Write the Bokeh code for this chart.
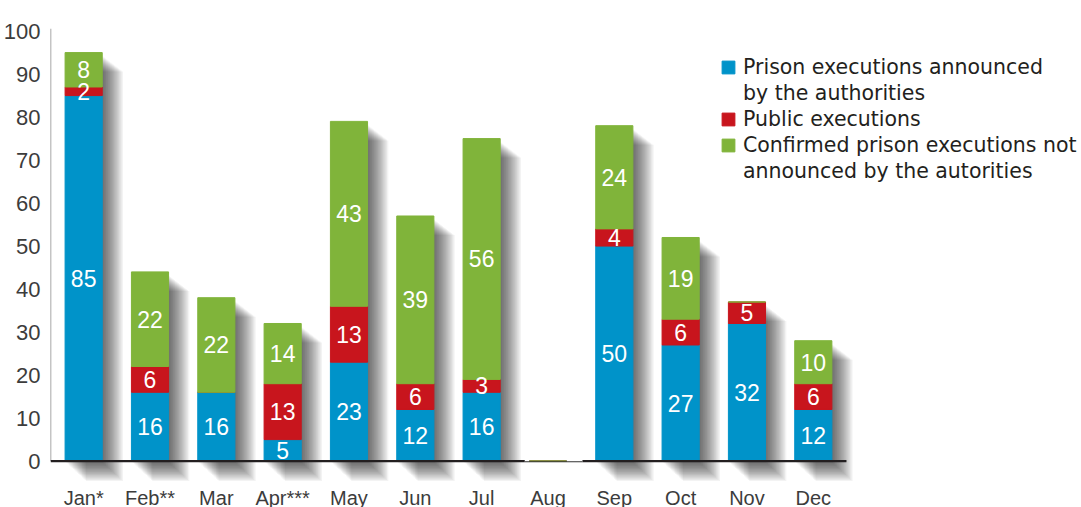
from bokeh.plotting import figure
from bokeh.models import ColumnDataSource, Range1d, FixedTicker, Legend, LegendItem
from bokeh.transform import dodge
from bokeh.embed import file_html
from bokeh.resources import INLINE

# ---- data ----
months = ["Jan*", "Feb**", "Mar", "Apr***", "May", "Jun", "Jul", "Aug", "Sep", "Oct", "Nov", "Dec"]
prison = [85, 16, 16, 5, 23, 12, 16, 0, 50, 27, 32, 12]
public = [2, 6, 0, 13, 13, 6, 3, 0, 4, 6, 5, 6]
unannounced = [8, 22, 22, 14, 43, 39, 56, 0, 24, 19, 0, 10]
legend_labels = ["Prison executions announced", "by the authorities", "Public executions",
                 "Confirmed prison executions not", "announced by the autorities"]
y_ticks = list(range(0, 101, 10))
colors = ["#0093c9", "#c8151d", "#80b43a"]

FONT = "Liberation Sans"
LEG_FONT = "DejaVu Sans"
PX_PER_UNIT = 4.3
PX_PER_CAT = 66.33
BAR_W = 0.56
FRAME_W = 1029

# month slots: one unit per month, bars centred in each slot
xpos = [i + 0.5 for i in range(len(months))]
src = ColumnDataSource(dict(x=xpos, prison=prison, public=public, unannounced=unannounced))

p = figure(x_range=Range1d(0, FRAME_W / PX_PER_CAT), y_range=Range1d(-8, 100.6),
           frame_width=FRAME_W, frame_height=467,
           min_border_top=28, min_border_left=44, min_border_right=0, min_border_bottom=0,
           output_backend="svg", toolbar_location=None, outline_line_color=None,
           background_fill_color="white", border_fill_color="white")

# ---- soft drop shadows ----
totals = [a + b + c for a, b, c in zip(prison, public, unannounced)]
sh_x = [x for x, t in zip(xpos, totals) if t > 0]
sh_totals = [t for t in totals if t > 0]
N = 16
for i in range(N):
    off = 1.3 * (i + 1) / PX_PER_CAT
    tops = [t - (4 + 1.0 * i) / PX_PER_UNIT for t in sh_totals]
    bottom = -(2 + 1.2 * i) / PX_PER_UNIT
    ssrc = ColumnDataSource(dict(x=sh_x, top=tops))
    p.vbar(x=dodge("x", off), top="top", bottom=bottom, width=BAR_W,
           source=ssrc, fill_color="black", fill_alpha=0.048, line_color=None)

# ---- stacked bars ----
bars = p.vbar_stack(["prison", "public", "unannounced"], x="x", width=BAR_W,
                    color=colors, source=src)

# ---- value labels ----
lx, ly, lt = [], [], []
for xv, a, b, c in zip(xpos, prison, public, unannounced):
    base = 0
    for v in (a, b, c):
        if v > 0:
            lx.append(xv)
            ly.append(base + v / 2)
            lt.append(str(v))
        base += v
p.text(x="x", y="y", text="t", source=ColumnDataSource(dict(x=lx, y=ly, t=lt)),
       text_color="white", text_font_size="23px", text_font={"value": FONT},
       text_align="center", text_baseline="middle")

# ---- axis lines ----
n = len(months)
p.segment(x0=[0], y0=[0], x1=[0], y1=[100.6], line_color="#8a8a8a", line_width=1.5)
p.segment(x0=[0, 8.02], y0=[0, 0], x1=[7.15, n], y1=[0, 0], line_color="#231f20", line_width=2.2)
p.segment(x0=[7.15], y0=[-0.15], x1=[8.02], y1=[-0.15], line_color="#333333", line_width=1.2)

p.xgrid.grid_line_color = None
p.ygrid.grid_line_color = None

for ax in (p.xaxis[0], p.yaxis[0]):
    ax.axis_line_color = None
    ax.major_tick_line_color = None
    ax.minor_tick_line_color = None
    ax.major_label_text_font = FONT
    ax.major_label_text_color = "#3c3c3c"
p.yaxis[0].ticker = FixedTicker(ticks=y_ticks)
p.yaxis[0].major_label_text_font_size = "22px"
p.yaxis[0].major_label_standoff = 4
p.xaxis[0].ticker = FixedTicker(ticks=xpos)
p.xaxis[0].major_label_overrides = {x: m for x, m in zip(xpos, months)}
p.xaxis[0].major_label_text_font_size = "20px"
p.xaxis[0].major_label_standoff = -15

# ---- legend ----
dummy = p.vbar(x=[], top=[], width=0.1, fill_alpha=0, line_alpha=0)
items = [
    LegendItem(label=legend_labels[0], renderers=[bars[0]]),
    LegendItem(label=legend_labels[1], renderers=[dummy]),
    LegendItem(label=legend_labels[2], renderers=[bars[1]]),
    LegendItem(label=legend_labels[3], renderers=[bars[2]]),
    LegendItem(label=legend_labels[4], renderers=[dummy]),
]
legend = Legend(items=items, location=(670, 312), orientation="vertical",
                border_line_color=None, background_fill_alpha=0, padding=0, margin=0,
                spacing=1, label_height=25, glyph_height=16, glyph_width=16,
                label_standoff=7, label_text_font_size="20.5px", label_text_font=LEG_FONT,
                label_text_color="#231f20")
p.add_layout(legend)

open("out.html", "w").write(file_html(p, INLINE))
